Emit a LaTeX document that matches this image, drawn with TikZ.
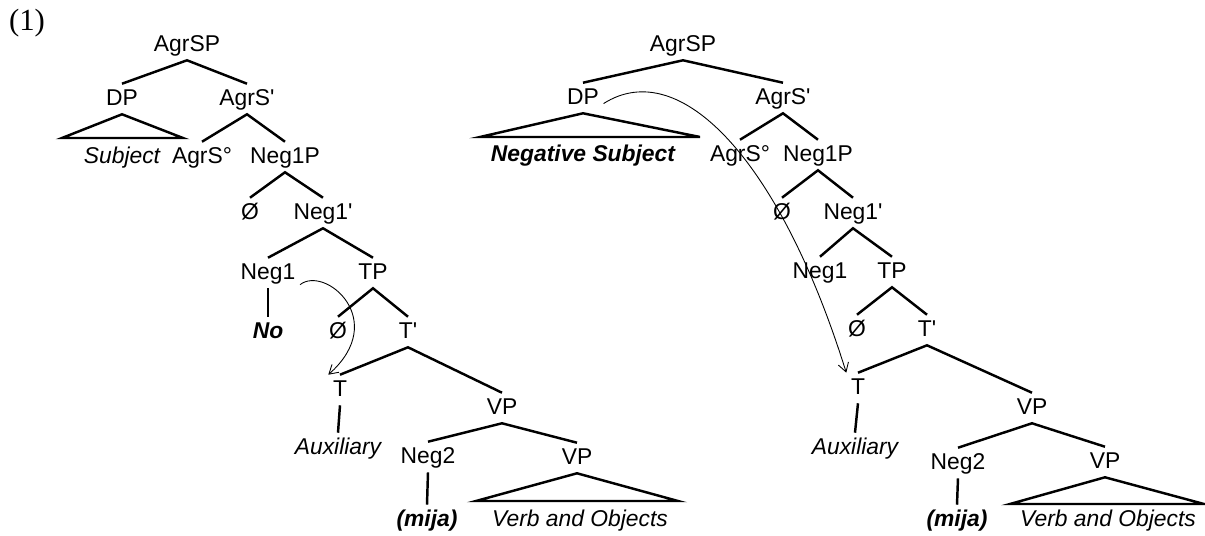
\documentclass[tikz,border=0pt]{standalone}
\usepackage{fontspec}
\setmainfont{Liberation Sans}
\newfontfamily\exfont{Liberation Serif}
\usetikzlibrary{arrows.meta}

\begin{document}
\begin{tikzpicture}[x=0.02cm,y=-0.02cm,
  lab/.style={font=\fontsize{13}{15}\selectfont, inner sep=2.5pt, text height=9.5pt, text depth=2.5pt},
  leaf/.style={lab, font=\fontsize{13}{15}\selectfont\itshape},
  bleaf/.style={lab, font=\fontsize{13}{15}\selectfont\bfseries\itshape},
  branch/.style={line width=1.4pt},
  move/.style={line width=0.5pt, -{Straight Barb[length=5pt,width=6pt]}}]
\useasboundingbox (0,0) rectangle (1205,535);
\node[font=\exfont\fontsize{17.5}{20}\selectfont] (ex) at (27,23) {(1)};
% tree with subject
\node[lab] (agrspA) at (187,45) {AgrSP};
\node[lab] (dpA) at (122,99) {DP};
\node[lab] (agrsbarA) at (247,99) {AgrS\textquotesingle};
\coordinate (subjL) at (62,138);
\coordinate (subjR) at (183,138);
\node[leaf] (subjA) at (122,157) {Subject};
\node[lab] (agrsA) at (202,157) {AgrS°};
\node[lab] (neg1pA) at (285,157) {Neg1P};
\node[lab] (nullA) at (250,213) {Ø};
\node[lab] (neg1barA) at (323,213) {Neg1\textquotesingle};
\node[lab] (neg1A) at (268,273) {Neg1};
\node[lab] (tpA) at (373,273) {TP};
\node[bleaf] (noA) at (268,332) {No};
\node[lab] (specA) at (338,332) {Ø};
\node[lab] (tbarA) at (408,332) {T\textquotesingle};
\node[lab] (tA) at (340,390) {T};
\node[lab] (vpA) at (502,408) {VP};
\node[leaf] (auxA) at (338,448) {Auxiliary};
\node[lab] (neg2A) at (428,457) {Neg2};
\node[lab] (vpbA) at (577,458) {VP};
\coordinate (verbL) at (476,501);
\coordinate (verbR) at (678,501);
\node[bleaf] (mijaA) at (427,520) {(mija)};
\node[leaf] (verbA) at (580,520) {Verb and Objects};
\draw[branch] (dpA.north) -- (agrspA.south) -- (agrsbarA.north);
\draw[branch] (dpA.south) -- (subjL) -- (subjR) -- cycle;
\draw[branch] (agrsA.north) -- (agrsbarA.south) -- (neg1pA.north);
\draw[branch] (nullA.north) -- (neg1pA.south) -- (neg1barA.north);
\draw[branch] (neg1A.north) -- (neg1barA.south) -- (tpA.north);
\draw[branch] (neg1A.south) -- (noA.north);
\draw[branch] (specA.north) -- (tpA.south) -- (tbarA.north);
\draw[branch] (tA.north) -- (tbarA.south) -- (vpA.north);
\draw[branch] (tA.south) -- (auxA.north);
\draw[branch] (neg2A.north) -- (vpA.south) -- (vpbA.north);
\draw[branch] (neg2A.south) -- (mijaA.north);
\draw[branch] (vpbA.south) -- (verbL) -- (verbR) -- cycle;
\draw[move] (neg1A.-20) .. controls (325,265) and (390,320) .. (tA.north west);
% tree with negative subject
\node[lab] (agrspB) at (683,45) {AgrSP};
\node[lab] (dpB) at (583,98) {DP};
\node[lab] (agrsbarB) at (783,98) {AgrS\textquotesingle};
\coordinate (nsubjL) at (480,137);
\coordinate (nsubjR) at (700,137);
\node[bleaf] (nsubjB) at (583,155) {Negative Subject};
\node[lab] (agrsB) at (740,155) {AgrS°};
\node[lab] (neg1pB) at (818,155) {Neg1P};
\node[lab] (nullB) at (782,213) {Ø};
\node[lab] (neg1barB) at (853,213) {Neg1\textquotesingle};
\node[lab] (neg1B) at (820,272) {Neg1};
\node[lab] (tpB) at (892,272) {TP};
\node[lab] (specB) at (857,330) {Ø};
\node[lab] (tbarB) at (927,330) {T\textquotesingle};
\node[lab] (tB) at (858,388) {T};
\node[lab] (vpB) at (1032,408) {VP};
\node[leaf] (auxB) at (855,448) {Auxiliary};
\node[lab] (neg2B) at (958,463) {Neg2};
\node[lab] (vpbB) at (1105,462) {VP};
\coordinate (verbBL) at (1010,504);
\coordinate (verbBR) at (1204,504);
\node[bleaf] (mijaB) at (957,520) {(mija)};
\node[leaf] (verbB) at (1108,520) {Verb and Objects};
\draw[branch] (dpB.north) -- (agrspB.south) -- (agrsbarB.north);
\draw[branch] (dpB.south) -- (nsubjL) -- (nsubjR) -- cycle;
\draw[branch] (agrsB.north) -- (agrsbarB.south) -- (neg1pB.north);
\draw[branch] (nullB.north) -- (neg1pB.south) -- (neg1barB.north);
\draw[branch] (neg1B.north) -- (neg1barB.south) -- (tpB.north);
\draw[branch] (specB.north) -- (tpB.south) -- (tbarB.north);
\draw[branch] (tB.north) -- (tbarB.south) -- (vpB.north);
\draw[branch] (tB.south) -- (auxB.north);
\draw[branch] (neg2B.north) -- (vpB.south) -- (vpbB.north);
\draw[branch] (neg2B.south) -- (mijaB.north);
\draw[branch] (vpbB.south) -- (verbBL) -- (verbBR) -- cycle;
\draw[move] (dpB.-15) .. controls (680,55) and (780,160) .. (tB.north west);
\end{tikzpicture}
\end{document}
